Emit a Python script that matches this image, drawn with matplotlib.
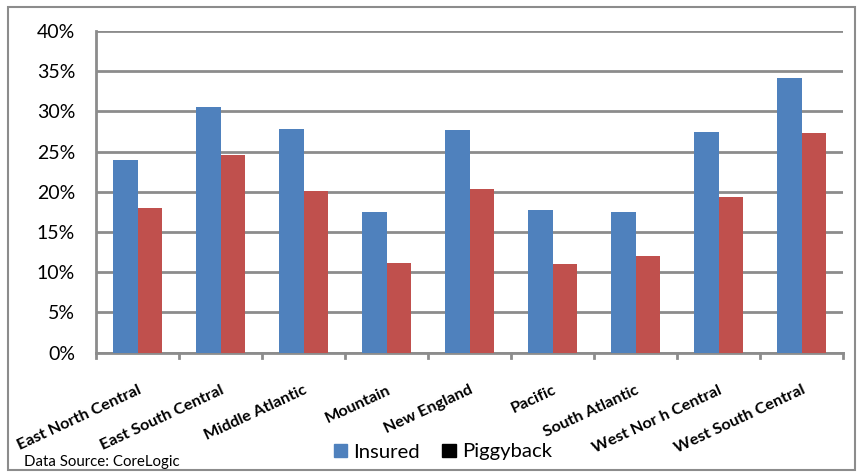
import matplotlib
matplotlib.use("Agg")
import matplotlib.pyplot as plt
from matplotlib.patches import Patch, Rectangle
import numpy as np

regions = ["East North Central", "East South Central", "Middle Atlantic", "Mountain",
           "New England", "Pacific", "South Atlantic", "West Nor h Central",
           "West South Central"]
insured = [24.0, 30.6, 27.8, 17.5, 27.7, 17.7, 17.5, 27.5, 34.1]
piggyback = [18.0, 24.6, 20.1, 11.1, 20.3, 11.0, 12.0, 19.4, 27.3]
y_ticks = [0, 5, 10, 15, 20, 25, 30, 35, 40]

plt.rcParams['font.family'] = ['Lato', 'DejaVu Sans']

W, H = 857, 472
fig = plt.figure(figsize=(W / 100, H / 100), dpi=100)
ax = fig.add_axes([96 / W, 1 - 352.6 / H, (843 - 96) / W, (352.6 - 31) / H])

blue = "#4F81BD"
red = "#C0504D"
grid_c = "#8C8C8C"

x = np.arange(len(regions))
bw = 0.295
ax.bar(x - bw / 2, insured, bw, color=blue, zorder=3)
ax.bar(x + bw / 2, piggyback, bw, color=red, zorder=3)

ax.set_xlim(-0.5, len(regions) - 0.5)
ax.set_ylim(0, 40)
ax.set_yticks(y_ticks)
ax.set_yticklabels([f"{t}%" for t in y_ticks], fontsize=14)
ax.yaxis.grid(True, color=grid_c, lw=2, zorder=0)
ax.tick_params(axis='y', length=0, pad=15)

ax.set_xticks(x)
ax.set_xticklabels(regions, rotation=25, ha='right', va='top',
                   rotation_mode='anchor', fontsize=11.7, fontweight='bold')
ax.tick_params(axis='x', length=0, pad=22)
# category separators on the baseline
for b in np.arange(-0.5, len(regions)):
    ax.plot([b, b], [0, -0.65], color=grid_c, lw=2, clip_on=False, zorder=4)

for s in ['top', 'right']:
    ax.spines[s].set_visible(False)
for s in ['left', 'bottom']:
    ax.spines[s].set_color(grid_c)
    ax.spines[s].set_linewidth(2)

handles = [Patch(color=blue, label="Insured"), Patch(color="black", label="Piggyback")]
fig.legend(handles=handles, loc='center', bbox_to_anchor=(443 / W, 1 - 452 / H),
           ncol=2, frameon=False, fontsize=14.6, handlelength=0.65, handleheight=0.65,
           handletextpad=0.3, columnspacing=1.1)

fig.text(24 / W, 1 - 462 / H, "Data Source: CoreLogic", fontsize=10.8,
         va='center', ha='left')

fig.patches.append(Rectangle((8 / W, 1 - 470 / H), (855 - 8) / W, (470 - 7) / H,
                             transform=fig.transFigure, fill=False,
                             edgecolor=grid_c, lw=1.5))

fig.savefig("out.png", dpi=100)
